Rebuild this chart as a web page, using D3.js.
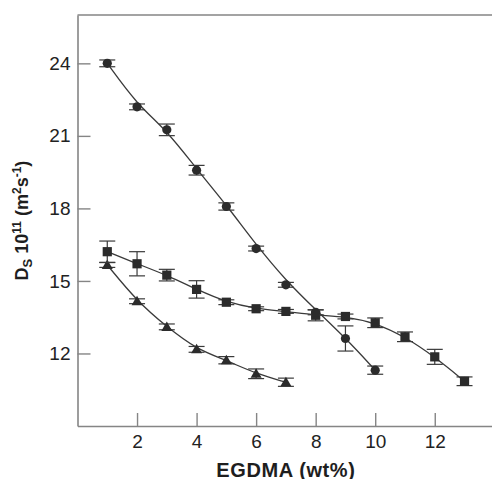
<!DOCTYPE html>
<html>
<head>
<meta charset="utf-8">
<script src="https://cdn.jsdelivr.net/npm/d3@7"></script>
<style>
  html, body { margin: 0; padding: 0; background: #fff; }
  svg { display: block; }
  .tick text { font-family: "Liberation Sans", Arial, sans-serif; font-size: 19px; fill: #222; }
</style>
</head>
<body>
<svg id="chart" width="492" height="479"></svg>
<script>
// Self-diffusion coefficient vs. EGDMA content, three gel series
const xTicks = [2, 4, 6, 8, 10, 12];
const yTicks = [12, 15, 18, 21, 24];

// Series A (circles)
const circleX   = [1, 2, 3, 4, 5, 6, 7, 8, 9, 10];
const circleY   = [24.0, 22.2, 21.25, 19.58, 18.08, 16.34, 14.84, 13.7, 12.62, 11.31];
const circleErr = [0.14, 0.12, 0.24, 0.2, 0.15, 0.1, 0.1, 0.1, 0.52, 0.17];

// Series B (squares)
const squareX   = [1, 2, 3, 4, 5, 6, 7, 8, 9, 10, 11, 12, 13];
const squareY   = [16.21, 15.71, 15.24, 14.65, 14.12, 13.85, 13.74, 13.58, 13.53, 13.27, 12.69, 11.86, 10.85];
const squareErr = [0.44, 0.5, 0.24, 0.36, 0.1, 0.08, 0.08, 0.23, 0.1, 0.2, 0.2, 0.31, 0.18];

// Series C (triangles)
const triX   = [1, 2, 3, 4, 5, 6, 7];
const triY   = [15.66, 14.16, 13.1, 12.17, 11.72, 11.16, 10.81];
const triErr = [0.1, 0.1, 0.12, 0.12, 0.15, 0.2, 0.17];

const svg = d3.select("#chart");
const x = d3.scaleLinear().domain([0, 14]).range([77.5, 494.3]);
const y = d3.scaleLinear().domain([9, 26]).range([426, 15]);

const axisColor = "#858585";
const inkColor = "#3a3a3a";
const markColor = "#2b2b2b";

// Axes with inward ticks
const gx = svg.append("g")
  .attr("transform", `translate(0,${y(9)})`)
  .call(d3.axisBottom(x).tickValues(xTicks).tickSizeInner(-13).tickSizeOuter(0).tickPadding(8).tickFormat(d3.format("d")));
const gy = svg.append("g")
  .attr("transform", `translate(${x(0)},0)`)
  .call(d3.axisLeft(y).tickValues(yTicks).tickSizeInner(-13).tickSizeOuter(0).tickPadding(7).tickFormat(d3.format("d")));
[gx, gy].forEach(g => {
  g.select(".domain").attr("stroke", axisColor).attr("stroke-width", 1.6);
  g.selectAll(".tick line").attr("stroke", axisColor).attr("stroke-width", 1.4);
});
gx.selectAll(".tick text").attr("dy", "0.75em");

// Top frame line
svg.append("line")
  .attr("x1", x(0)).attr("x2", 492)
  .attr("y1", y(26)).attr("y2", y(26))
  .attr("stroke", axisColor).attr("stroke-width", 1.6);

// Smoothed fit curve through each series, then error bars and markers
function drawSeries(xs, ys, errs, shape, curve) {
  const pts = xs.map((v, i) => [v, ys[i], errs[i]]);
  const line = d3.line().x(d => x(d[0])).y(d => y(d[1])).curve(curve);
  svg.append("path")
    .attr("d", line(pts))
    .attr("fill", "none")
    .attr("stroke", inkColor)
    .attr("stroke-width", 1.3);

  const g = svg.append("g");
  pts.forEach(p => {
    const cx = x(p[0]), top = y(p[1] + p[2]), bot = y(p[1] - p[2]);
    g.append("line").attr("x1", cx).attr("x2", cx).attr("y1", top).attr("y2", bot)
      .attr("stroke", inkColor).attr("stroke-width", 1.2);
    [top, bot].forEach(yy => g.append("line")
      .attr("x1", cx - 8).attr("x2", cx + 8).attr("y1", yy).attr("y2", yy)
      .attr("stroke", inkColor).attr("stroke-width", 1.2));
  });
  pts.forEach(p => {
    const cx = x(p[0]), cy = y(p[1]);
    if (shape === "circle") {
      g.append("circle").attr("cx", cx).attr("cy", cy).attr("r", 4.6).attr("fill", markColor);
    } else if (shape === "square") {
      g.append("rect").attr("x", cx - 4.6).attr("y", cy - 4.6).attr("width", 9.2).attr("height", 9.2).attr("fill", markColor);
    } else {
      g.append("path")
        .attr("d", `M${cx},${cy - 5.5}L${cx + 5.5},${cy + 4}L${cx - 5.5},${cy + 4}Z`)
        .attr("fill", markColor);
    }
  });
}
drawSeries(triX, triY, triErr, "triangle", d3.curveBasis);
drawSeries(squareX, squareY, squareErr, "square", d3.curveBasis);
drawSeries(circleX, circleY, circleErr, "circle", d3.curveBundle.beta(0.75));

// Axis titles
svg.append("text")
  .attr("x", (x(0) + x(14)) / 2).attr("y", 476.5)
  .attr("text-anchor", "middle")
  .attr("font-family", "Liberation Sans, Arial, sans-serif")
  .attr("font-weight", "bold").attr("font-size", 20)
  .attr("letter-spacing", 0.6)
  .attr("fill", "#1e1e1e")
  .text("EGDMA (wt%)");

const yt = svg.append("text")
  .attr("transform", `translate(28,${(y(9) + y(26)) / 2}) rotate(-90)`)
  .attr("text-anchor", "middle")
  .attr("font-family", "Liberation Sans, Arial, sans-serif")
  .attr("font-weight", "bold").attr("font-size", 18)
  .attr("fill", "#1e1e1e");
yt.append("tspan").text("D");
yt.append("tspan").attr("font-size", 13).attr("dy", 4).text("S");
yt.append("tspan").attr("dy", -4).text(" 10");
yt.append("tspan").attr("font-size", 12).attr("dy", -7).text("11");
yt.append("tspan").attr("dy", 7).text(" (m");
yt.append("tspan").attr("font-size", 12).attr("dy", -7).text("2");
yt.append("tspan").attr("dy", 7).text("s");
yt.append("tspan").attr("font-size", 12).attr("dy", -7).text("-1");
yt.append("tspan").attr("dy", 7).text(")");
</script>
</body>
</html>
